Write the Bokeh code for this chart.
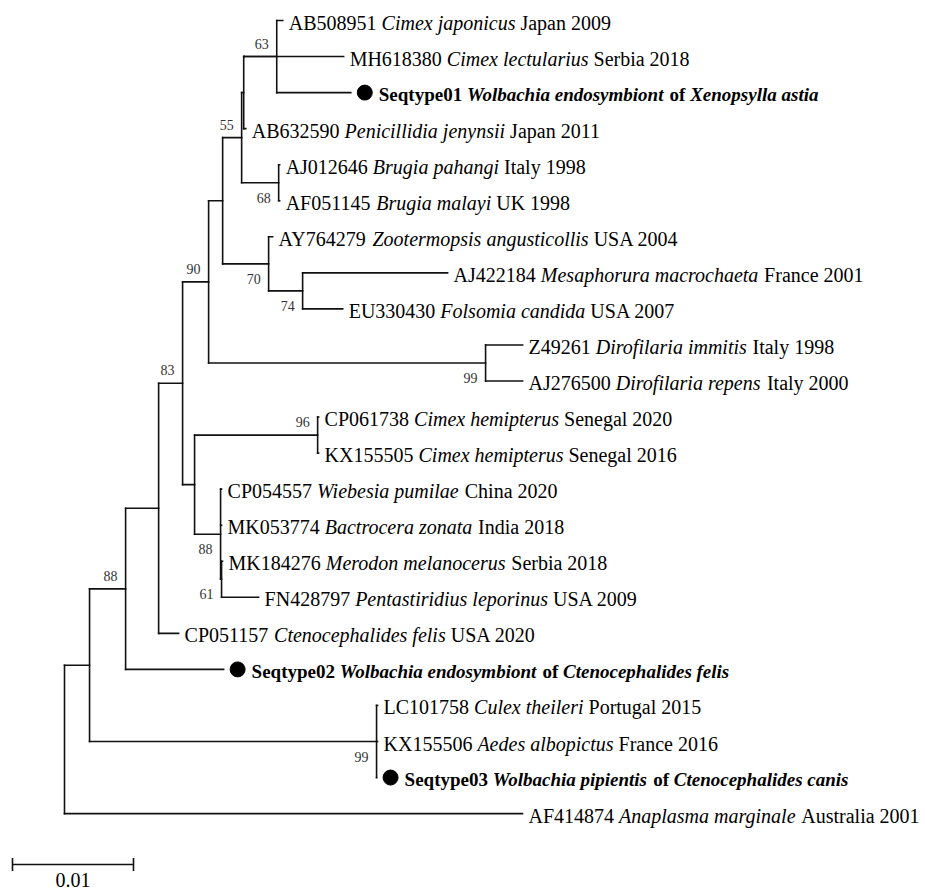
from bokeh.plotting import figure
from bokeh.models import Range1d, ColumnDataSource
from bokeh.core.properties import value
from bokeh.embed import file_html
from bokeh.resources import INLINE

# ------------------------------------------------------------------ data
# leaves, top to bottom
leaf_accession = ["AB508951", "MH618380", "Seqtype01", "AB632590", "AJ012646", "AF051145",
                  "AY764279", "AJ422184", "EU330430", "Z49261", "AJ276500", "CP061738",
                  "KX155505", "CP054557", "MK053774", "MK184276", "FN428797", "CP051157",
                  "Seqtype02", "LC101758", "KX155506", "Seqtype03", "AF414874"]
leaf_species = ["Cimex japonicus", "Cimex lectularius", "Wolbachia endosymbiont", "Penicillidia jenynsii",
                "Brugia pahangi", "Brugia malayi", "Zootermopsis angusticollis", "Mesaphorura macrochaeta",
                "Folsomia candida", "Dirofilaria immitis", "Dirofilaria repens", "Cimex hemipterus",
                "Cimex hemipterus", "Wiebesia pumilae", "Bactrocera zonata", "Merodon melanocerus",
                "Pentastiridius leporinus", "Ctenocephalides felis", "Wolbachia endosymbiont",
                "Culex theileri", "Aedes albopictus", "Wolbachia pipientis", "Anaplasma marginale"]
leaf_origin = ["Japan 2009", "Serbia 2018", None, "Japan 2011", "Italy 1998", "UK 1998", "USA 2004",
               "France 2001", "USA 2007", "Italy 1998", "Italy 2000", "Senegal 2020", "Senegal 2016",
               "China 2020", "India 2018", "Serbia 2018", "USA 2009", "USA 2020", None,
               "Portugal 2015", "France 2016", None, "Australia 2001"]
seqtype_host = {"Seqtype01": "Xenopsylla astia", "Seqtype02": "Ctenocephalides felis",
                "Seqtype03": "Ctenocephalides canis"}
leaf_parent = ["B63", "C", "B63", "A1", "N68", "N68", "N70", "N74", "N74", "N99a", "N99a", "N96",
               "N96", "N88b", "N88b", "N61", "N61", "E", "F", "N99b", "N99b", "N99b", "R"]
leaf_branch = [0.00050, 0.00822, 0.00612, 0.00017, 0.00008, 0.00008, 0.00033, 0.01198, 0.00331,
               0.00306, 0.00306, 0.00008, 0.00008, 0.00008, 0.00008, 0.00008, 0.00306, 0.00165,
               0.00810, 0.00008, 0.00008, 0.00000, 0.03785]

# internal nodes (parents listed before children)
node_name = ["R", "G", "F", "E", "N83", "N90", "K", "N55", "A1", "C", "B63", "N68", "N70", "N74",
             "N99a", "D", "N96", "N88b", "N61", "N99b"]
node_parent = [None, "R", "G", "F", "E", "N83", "N90", "K", "N55", "A1", "C", "N55", "K", "N70",
               "N90", "N83", "D", "D", "N88b", "G"]
node_branch = [0.0, 0.00207, 0.00298, 0.00273, 0.00198, 0.00215, 0.00116, 0.00157, 0.00017, 0.00004,
               0.00269, 0.00306, 0.00380, 0.00281, 0.02289, 0.00099, 0.01017, 0.00215, 0.00008, 0.02372]
node_support = [None, None, 88, None, 83, 90, None, 55, None, None, 63, 68, 70, 74, 99, None, 96, 88,
                61, 99]

scale_bar_length = 0.01
scale_bar_label = "0.01"

# ------------------------------------------------------------------ layout / style
W, H = 925, 893
ROOT_PX = 64
PX_PER_UNIT = 12100.0
ROW0_PX = 20
ROW_PX = 36.05
FS = 20.0
FS_BOLD = 19.0
FONT = "Liberation Serif"
support_below = {"N68", "N70", "N74", "N99a", "N88b", "N61", "N99b"}

# Times-compatible advance widths (per 1000 em)
CHARS = "ABCDEFGHIJKLMNOPQRSTUVWXYZabcdefghijklmnopqrstuvwxyz0123456789 ."
_w = {
    "normal": [722, 667, 667, 722, 611, 556, 722, 722, 333, 389, 722, 611, 889, 722, 722, 556, 722, 667,
               556, 611, 722, 722, 944, 722, 722, 611,
               444, 500, 444, 500, 444, 333, 500, 500, 278, 278, 500, 278, 778, 500, 500, 500, 500, 333,
               389, 278, 500, 500, 722, 500, 500, 444] + [500] * 10 + [250, 250],
    "italic": [611, 611, 667, 722, 611, 611, 722, 722, 333, 444, 667, 556, 833, 667, 722, 611, 722, 611,
               500, 556, 722, 611, 833, 611, 556, 556,
               500, 500, 444, 500, 444, 278, 500, 500, 278, 278, 444, 278, 722, 500, 500, 500, 500, 389,
               389, 278, 500, 444, 667, 444, 444, 389] + [500] * 10 + [250, 250],
    "bold": [722, 667, 722, 722, 667, 611, 778, 778, 389, 500, 778, 667, 944, 722, 778, 611, 778, 722,
             556, 667, 722, 722, 1000, 722, 722, 667,
             500, 556, 444, 556, 444, 333, 500, 556, 278, 333, 556, 278, 833, 556, 500, 556, 556, 444,
             389, 333, 556, 500, 722, 500, 500, 444] + [500] * 10 + [250, 250],
    "bold italic": [667, 667, 667, 722, 667, 667, 722, 778, 389, 500, 667, 611, 889, 722, 722, 611, 722,
                    667, 556, 611, 722, 667, 889, 667, 611, 611,
                    500, 500, 444, 500, 444, 333, 500, 556, 278, 278, 500, 278, 778, 556, 500, 500, 500,
                    389, 389, 278, 556, 444, 667, 500, 444, 389] + [500] * 10 + [250, 250],
}
WIDTH = {k: dict(zip(CHARS, v)) for k, v in _w.items()}
SIZE = {"normal": FS, "italic": FS, "bold": FS_BOLD, "bold italic": FS_BOLD}


def tw(s, style):
    return sum(WIDTH[style].get(c, 500) for c in s) / 1000.0 * SIZE[style]


# ------------------------------------------------------------------ tree geometry
depth = {}
for n, par, b in zip(node_name, node_parent, node_branch):
    depth[n] = 0.0 if par is None else depth[par] + b
leaf_x = [depth[p] + b for p, b in zip(leaf_parent, leaf_branch)]
leaf_y = list(range(len(leaf_accession)))

children_y = {n: [] for n in node_name}
for i, p in enumerate(leaf_parent):
    children_y[p].append(leaf_y[i])
ypos = {}
for n in reversed(node_name):
    cy = children_y[n]
    ypos[n] = (min(cy) + max(cy)) / 2.0
    par = node_parent[node_name.index(n)]
    if par is not None:
        children_y[par].append(ypos[n])

hx0, hx1, hy = [], [], []
for n, par in zip(node_name, node_parent):
    if par is not None:
        hx0.append(depth[par]); hx1.append(depth[n]); hy.append(ypos[n])
for i, p in enumerate(leaf_parent):
    hx0.append(depth[p]); hx1.append(leaf_x[i]); hy.append(leaf_y[i])
vx, vy0, vy1 = [], [], []
for n in node_name:
    cy = children_y[n]
    vx.append(depth[n]); vy0.append(min(cy)); vy1.append(max(cy))

# ------------------------------------------------------------------ figure
x_start = (0 - ROOT_PX) / PX_PER_UNIT
x_end = (W - ROOT_PX) / PX_PER_UNIT
y_top = (0 - ROW0_PX) / ROW_PX
y_bot = (H - ROW0_PX) / ROW_PX

p = figure(width=W, height=H, x_range=Range1d(x_start, x_end), y_range=Range1d(y_bot, y_top),
           output_backend="svg", toolbar_location=None, min_border=0)
p.axis.visible = False
p.grid.visible = False
p.outline_line_color = None
p.background_fill_color = "white"
p.border_fill_color = "white"

LC = "#111111"
LW = 1.6
p.segment(x0=hx0, y0=hy, x1=hx1, y1=hy, line_color=LC, line_width=LW, line_cap="square")
p.segment(x0=vx, y0=vy0, x1=vx, y1=vy1, line_color=LC, line_width=LW, line_cap="square")

# leaf labels
groups = {s: {"x": [], "y": [], "text": [], "xo": []} for s in WIDTH}


def add(style, x, y, text, xo):
    g = groups[style]
    g["x"].append(x); g["y"].append(y); g["text"].append(text); g["xo"].append(xo)


dot_x, dot_y = [], []
for i, acc in enumerate(leaf_accession):
    x, y = leaf_x[i], leaf_y[i]
    if acc in seqtype_host:
        dot_x.append(x + 14 / PX_PER_UNIT); dot_y.append(y)
        off = 28.0
        add("bold", x, y, acc, off); off += tw(acc + " ", "bold")
        add("bold italic", x, y, leaf_species[i], off); off += tw(leaf_species[i] + " ", "bold italic")
        add("bold", x, y, "of", off); off += tw("of ", "bold")
        add("bold italic", x, y, seqtype_host[acc], off)
    else:
        off = 6.0
        add("normal", x, y, acc, off); off += tw(acc + " ", "normal")
        add("italic", x, y, leaf_species[i], off); off += tw(leaf_species[i] + " ", "italic")
        add("normal", x, y, leaf_origin[i], off)

for style, g in groups.items():
    if not g["x"]:
        continue
    p.text(x="x", y="y", text="text", x_offset="xo", y_offset=2, source=ColumnDataSource(g),
           text_font=value(FONT), text_font_size=value(f"{SIZE[style]}px"), text_font_style=value(style),
           text_color="black", text_align="left", text_baseline="middle")

p.scatter(x=dot_x, y=dot_y, size=15, color="black", marker="circle")

# bootstrap supports
bs = {"x": [], "y": [], "text": [], "yo": []}
for n, s in zip(node_name, node_support):
    if s is None:
        continue
    bs["x"].append(depth[n]); bs["y"].append(ypos[n]); bs["text"].append(str(s))
    bs["yo"].append(15 if n in support_below else -13)
p.text(x="x", y="y", text="text", x_offset=-8, y_offset="yo", source=ColumnDataSource(bs),
       text_font=value(FONT), text_font_size=value("14px"), text_color="#333333",
       text_align="right", text_baseline="middle")

# scale bar
sb_x0 = (12 - ROOT_PX) / PX_PER_UNIT
sb_y = (864 - ROW0_PX) / ROW_PX
tick = 6.5 / ROW_PX
p.segment(x0=[sb_x0, sb_x0, sb_x0 + scale_bar_length], y0=[sb_y, sb_y - tick, sb_y - tick],
          x1=[sb_x0 + scale_bar_length, sb_x0, sb_x0 + scale_bar_length], y1=[sb_y, sb_y + tick, sb_y + tick],
          line_color=LC, line_width=LW)
p.text(x=[sb_x0 + scale_bar_length / 2], y=[(879 - ROW0_PX) / ROW_PX], text=[scale_bar_label],
       text_font=value(FONT), text_font_size=value(f"{FS}px"), text_color="black",
       text_align="center", text_baseline="middle")

open("out.html", "w").write(file_html(p, INLINE))
